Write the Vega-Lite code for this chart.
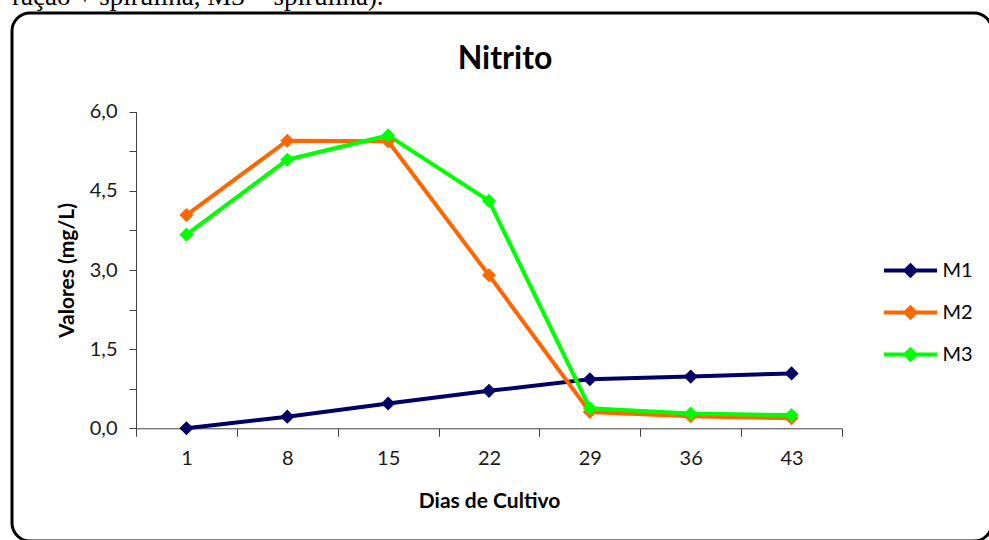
{
  "$schema": "https://vega.github.io/schema/vega-lite/v6.json",
  "width": 980,
  "height": 528,
  "autosize": {"type": "none"},
  "padding": {"left": 12, "top": 13, "right": 0, "bottom": 0},
  "background": "#ffffff",
  "view": {"stroke": "#000000", "strokeWidth": 3, "cornerRadius": 18, "fill": "#ffffff"},
  "title": {
    "text": "ração + spirulina, M3 = spirulina).",
    "orient": "top",
    "anchor": "start",
    "frame": "group",
    "offset": 0,
    "dy": 19,
    "baseline": "alphabetic",
    "font": "Liberation Serif",
    "fontSize": 27,
    "fontWeight": "normal",
    "color": "#000000"
  },
  "config": {
    "locale": {"number": {"decimal": ",", "thousands": ".", "grouping": [3], "currency": ["R$", ""]}},
    "axis": {"grid": false, "domainColor": "#404040", "tickColor": "#404040", "labelColor": "#1a1a1a", "labelFont": "Lato", "labelFontSize": 20, "titleFont": "Lato", "titleFontSize": 21, "titleFontWeight": "bold", "titleColor": "#000000"}
  },
  "data": {
    "values": [
      {"day": 1, "series": "M1", "value": 0.0},
      {"day": 8, "series": "M1", "value": 0.22},
      {"day": 15, "series": "M1", "value": 0.47},
      {"day": 22, "series": "M1", "value": 0.71},
      {"day": 29, "series": "M1", "value": 0.93},
      {"day": 36, "series": "M1", "value": 0.98},
      {"day": 43, "series": "M1", "value": 1.04},
      {"day": 1, "series": "M2", "value": 4.04},
      {"day": 8, "series": "M2", "value": 5.45},
      {"day": 15, "series": "M2", "value": 5.44},
      {"day": 22, "series": "M2", "value": 2.9},
      {"day": 29, "series": "M2", "value": 0.31},
      {"day": 36, "series": "M2", "value": 0.23},
      {"day": 43, "series": "M2", "value": 0.19},
      {"day": 1, "series": "M3", "value": 3.67},
      {"day": 8, "series": "M3", "value": 5.09},
      {"day": 15, "series": "M3", "value": 5.55},
      {"day": 22, "series": "M3", "value": 4.31},
      {"day": 29, "series": "M3", "value": 0.38},
      {"day": 36, "series": "M3", "value": 0.28},
      {"day": 43, "series": "M3", "value": 0.25}
    ]
  },
  "resolve": {"axis": {"x": "independent"}},
  "layer": [
    {
      "mark": {"type": "line", "strokeWidth": 4},
      "encoding": {
        "x": {
          "field": "day", "type": "ordinal",
          "scale": {"type": "band", "range": [124, 830], "paddingInner": 0, "paddingOuter": 0},
          "axis": {"orient": "bottom", "offset": -112.7, "labelAngle": 0, "tickBand": "extent", "tickSize": 8, "labelPadding": 12, "title": "Dias de Cultivo", "titleBaseline": "alphabetic", "titleY": 79, "titleAlign": "center"}
        },
        "y": {
          "field": "value", "type": "quantitative",
          "scale": {"domain": [0, 6], "range": [415.3, 98.7], "nice": false},
          "axis": {"orient": "left", "offset": -124, "values": [0, 0.75, 1.5, 2.25, 3, 3.75, 4.5, 5.25, 6], "format": ".1f", "labelExpr": "datum.value % 1.5 === 0 ? datum.label : ''", "tickSize": 7, "labelPadding": 12, "title": "Valores (mg/L)", "titleX": -63, "titleY": 257, "titleAlign": "center", "titleBaseline": "alphabetic", "titleAngle": 270}
        },
        "color": {
          "field": "series", "type": "nominal",
          "scale": {"domain": ["M1", "M2", "M3"], "range": ["#000066", "#ff6600", "#00ff00"]},
          "legend": {"orient": "none", "legendX": 883, "legendY": 242, "title": null, "symbolType": "M-2,0L2,0M-0.38,0L0,-0.38L0.38,0L0,0.38Z", "symbolSize": 702, "symbolStrokeWidth": 4, "labelOffset": 16.5, "rowPadding": 13, "labelFont": "Lato", "labelFontSize": 20, "labelColor": "#000000", "encode": {"symbols": {"update": {"fill": {"scale": "color", "field": "value"}}}}}
        }
      }
    },
    {
      "mark": {"type": "point", "shape": "diamond", "filled": true, "size": 200, "opacity": 1},
      "encoding": {
        "x": {"field": "day", "type": "ordinal", "axis": null},
        "y": {"field": "value", "type": "quantitative"},
        "color": {
          "field": "series", "type": "nominal",
          "legend": {"orient": "none", "legendX": 883, "legendY": 242, "title": null, "symbolType": "M-2,0L2,0M-0.38,0L0,-0.38L0.38,0L0,0.38Z", "symbolSize": 702, "symbolStrokeWidth": 4, "labelOffset": 16.5, "rowPadding": 13, "labelFont": "Lato", "labelFontSize": 20, "labelColor": "#000000", "encode": {"symbols": {"update": {"fill": {"scale": "color", "field": "value"}}}}}
        }
      }
    },
    {
      "mark": {"type": "point", "opacity": 0},
      "encoding": {
        "x": {
          "field": "day", "type": "ordinal",
          "axis": {"orient": "top", "labels": false, "ticks": false, "domain": false, "title": "Nitrito", "titleX": 492.5, "titleY": 55, "titleAlign": "center", "titleBaseline": "alphabetic", "titleFont": "Lato", "titleFontSize": 32, "titleFontWeight": "bold", "titleColor": "#000000"}
        }
      }
    }
  ]
}
